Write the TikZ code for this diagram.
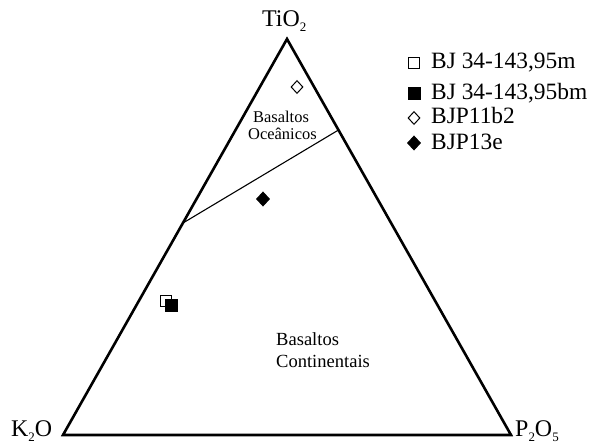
\documentclass[tikz,border=0pt]{standalone}
\usepackage{fontspec}
\setmainfont{Liberation Serif}
\usetikzlibrary{shapes.geometric}
\tikzset{
  side/.style={line width=2.6bp, line join=miter},
  divider/.style={line width=1.1bp},
  opensq/.style={draw, line width=1bp, fill=white, rectangle, inner sep=0pt, minimum size=11bp},
  fullsq/.style={draw, line width=1bp, fill=black, rectangle, inner sep=0pt, minimum size=12bp},
  opendia/.style={draw, line width=1bp, fill=white, diamond, inner sep=0pt, minimum width=12bp, minimum height=13bp},
  fulldia/.style={draw, line width=1bp, fill=black, diamond, inner sep=0pt, minimum width=13bp, minimum height=14bp},
  apexlbl/.style={font=\fontsize{24}{28}\selectfont, inner sep=0pt},
  leg/.style={font=\fontsize{23.5}{28}\selectfont, anchor=base west, inner sep=0pt},
  ocean/.style={font=\fontsize{16.5}{18}\selectfont, anchor=base west, inner sep=0pt},
  cont/.style={font=\fontsize{18.6}{22}\selectfont, anchor=base west, inner sep=0pt}
}
\newcommand{\subnum}[1]{\raisebox{-5bp}{\fontsize{13}{13}\selectfont #1}}
\begin{document}
\begin{tikzpicture}[x=1bp, y=-1bp]
\useasboundingbox (0,0) rectangle (592,443);
% triangle
\coordinate (T) at (287,39);
\coordinate (L) at (63,435);
\coordinate (R) at (511,435);
\draw[side] (T) -- (L) -- (R) -- cycle;
% divider
\coordinate (d1) at (183,223);
\coordinate (d2) at (338.5,130);
\draw[divider] (d1) -- (d2);
% apex labels
\node[apexlbl, anchor=base west] (tio) at (262,27) {TiO\subnum{2}};
\node[apexlbl, anchor=base west] (k2o) at (11,436) {K\subnum{2}O};
\node[apexlbl, anchor=base west] (p2o5) at (515,436) {P\subnum{2}O\subnum{5}};
% field labels
\node[ocean] (oc1) at (253,123) {Basaltos};
\node[ocean] (oc2) at (248,140) {Oceânicos};
\node[cont] (ct1) at (276,345) {Basaltos};
\node[cont] (ct2) at (276,367) {Continentais};
% data points
\node[opendia] (p1) at (297,87) {};
\node[fulldia] (p2) at (263,199) {};
\node[opensq] (p3) at (166,301) {};
\node[fullsq] (p4) at (171,305.5) {};
% legend
\node[opensq] (m1) at (413.5,63.5) {};
\node[fullsq] (m2) at (414,94) {};
\node[opendia] (m3) at (414,118) {};
\node[fulldia] (m4) at (414,143) {};
\node[leg] (l1) at (431,69) {BJ 34-143,95m};
\node[leg] (l2) at (431,100) {BJ 34-143,95bm};
\node[leg] (l3) at (431,124) {BJP11b2};
\node[leg] (l4) at (431,150) {BJP13e};
\end{tikzpicture}
\end{document}
